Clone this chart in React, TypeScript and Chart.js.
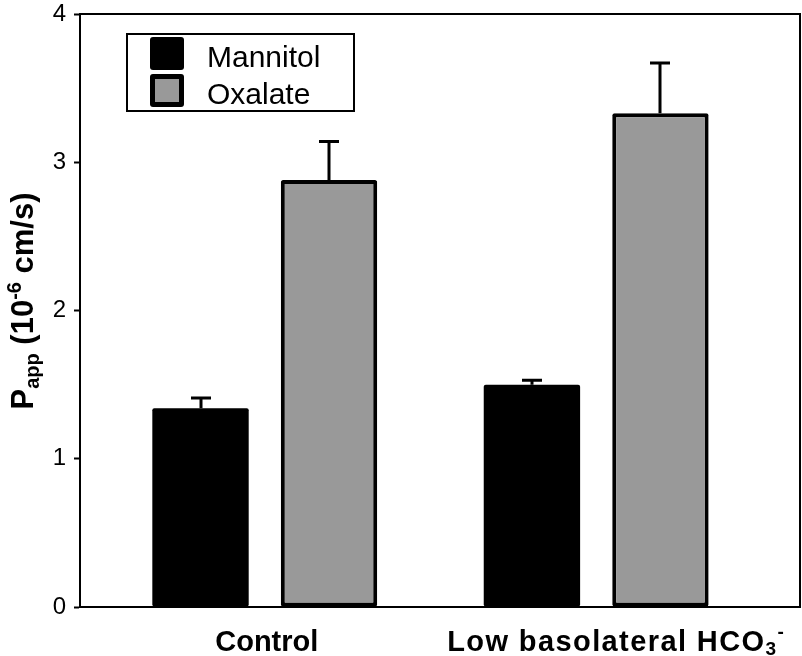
import React, { useEffect, useRef } from "react";
import { Chart, registerables } from "chart.js";

Chart.register(...registerables);

const categories = ["Control", "Low basolateral HCO3-"];
const seriesNames = ["Mannitol", "Oxalate"];
const mannitol = [1.34, 1.5];
const mannitolErr = [0.07, 0.03];
const oxalate = [2.88, 3.33];
const oxalateErr = [0.26, 0.34];
const yTicks = [0, 1, 2, 3, 4];

const FONT = "'Liberation Sans', Arial, Helvetica, sans-serif";

const errors = [mannitolErr, oxalateErr];

const framePlugin = {
  id: "frame",
  beforeDatasetsDraw(chart: any) {
    const { ctx, chartArea: a } = chart;
    ctx.save();
    ctx.strokeStyle = "#000";
    ctx.lineWidth = 2;
    ctx.strokeRect(a.left, a.top, a.right - a.left, a.bottom - a.top);
    ctx.restore();
  },
};

const errorBarPlugin = {
  id: "errorBars",
  afterDatasetsDraw(chart: any) {
    const { ctx } = chart;
    const yScale = chart.scales.y;
    ctx.save();
    ctx.strokeStyle = "#000";
    ctx.lineWidth = 3;
    chart.data.datasets.forEach((ds: any, di: number) => {
      const meta = chart.getDatasetMeta(di);
      meta.data.forEach((bar: any, i: number) => {
        const v = ds.data[i].y;
        const e = errors[di][i];
        const yTop = yScale.getPixelForValue(v + e);
        const x = Math.round(bar.x);
        ctx.beginPath();
        ctx.moveTo(x, bar.y);
        ctx.lineTo(x, yTop);
        ctx.moveTo(x - 10, yTop);
        ctx.lineTo(x + 10, yTop);
        ctx.stroke();
      });
    });
    ctx.restore();
  },
};

const legendPlugin = {
  id: "customLegend",
  afterDraw(chart: any) {
    const { ctx } = chart;
    const bx = 127, by = 34, bw = 227, bh = 77;
    ctx.save();
    ctx.fillStyle = "#fff";
    ctx.fillRect(bx, by, bw, bh);
    ctx.strokeStyle = "#000";
    ctx.lineWidth = 2;
    ctx.strokeRect(bx, by, bw, bh);
    chart.data.datasets.forEach((ds: any, i: number) => {
      const sy = 37 + i * 37;
      ctx.fillStyle = "#000";
      ctx.beginPath();
      (ctx as any).roundRect(150, sy, 34, 33, 3);
      ctx.fill();
      if (ds.backgroundColor !== "#000") {
        ctx.fillStyle = ds.backgroundColor;
        ctx.fillRect(155, sy + 5, 24, 23);
      }
      ctx.fillStyle = "#000";
      ctx.font = `30px ${FONT}`;
      ctx.textBaseline = "alphabetic";
      ctx.textAlign = "left";
      ctx.fillText(ds.label, 207, sy + 30);
    });
    ctx.restore();
  },
};

function drawRich(ctx: any, parts: any[], x: number, y: number, spacing: number) {
  ctx.letterSpacing = `${spacing}px`;
  let total = 0;
  parts.forEach((p) => {
    ctx.font = p.font;
    total += ctx.measureText(p.text).width;
  });
  let cx = x - total / 2;
  ctx.textAlign = "left";
  ctx.textBaseline = "alphabetic";
  parts.forEach((p) => {
    ctx.font = p.font;
    ctx.fillText(p.text, cx, y + (p.dy || 0));
    cx += ctx.measureText(p.text).width;
  });
  ctx.letterSpacing = "0px";
}

const labelsPlugin = {
  id: "richLabels",
  afterDraw(chart: any) {
    const { ctx } = chart;
    const xs = chart.scales.x;
    const big = `bold 29px ${FONT}`;
    const small = `bold 19px ${FONT}`;
    ctx.save();
    ctx.fillStyle = "#000";
    const labelParts = [
      [{ text: categories[0], font: big }],
      [
        { text: "Low basolateral HCO", font: big },
        { text: "3", font: small, dy: 4 },
        { text: "-", font: small, dy: -13 },
      ],
    ];
    const shifts = [2, 20];
    const spacings = [0, 1.4];
    categories.forEach((_, i) => {
      const px = xs.getPixelForValue(i + 1);
      drawRich(ctx, labelParts[i], px + shifts[i], 651, spacings[i]);
    });
    const tbig = `bold 31px ${FONT}`;
    const tsmall = `bold 20px ${FONT}`;
    const tparts = [
      { text: "P", font: tbig },
      { text: "app", font: tsmall, dy: 6 },
      { text: " (10", font: tbig },
      { text: "-6", font: tsmall, dy: -12 },
      { text: " cm/s)", font: tbig },
    ];
    ctx.translate(33, 301);
    ctx.rotate(-Math.PI / 2);
    drawRich(ctx, tparts, 0, 0, 0);
    ctx.restore();
  },
};

export default function App() {
  const ref = useRef<HTMLCanvasElement>(null);
  useEffect(() => {
    document.body.style.margin = "0";
    const chart = new Chart(ref.current as HTMLCanvasElement, {
      type: "bar",
      data: {
        datasets: [
          {
            label: seriesNames[0],
            data: mannitol.map((v, i) => ({ x: i + 1, y: v })),
            backgroundColor: "#000",
            borderColor: "#000",
            borderWidth: 0,
            borderRadius: 2,
            borderSkipped: false,
            categoryPercentage: 0.7755,
            barPercentage: 0.75,
          },
          {
            label: seriesNames[1],
            data: oxalate.map((v, i) => ({ x: i + 1, y: v })),
            backgroundColor: "#999999",
            borderColor: "#000",
            borderWidth: 4,
            borderRadius: 2,
            borderSkipped: false,
            categoryPercentage: 0.7755,
            barPercentage: 0.75,
          },
        ] as any,
      },
      options: {
        animation: false,
        responsive: false,
        layout: { padding: { top: 14, right: 2, left: 0, bottom: 0 } },
        plugins: { legend: { display: false }, tooltip: { enabled: false } },
        scales: {
          x: {
            type: "linear",
            offset: false,
            min: 0.4425,
            max: 2.615,
            afterBuildTicks: (s: any) => {
              s.ticks = categories.map((_, i) => ({ value: i + 1 }));
            },
            afterFit: (s: any) => {
              s.height = 49;
              s.paddingLeft = 0;
              s.paddingRight = 0;
            },
            ticks: { display: false },
            grid: { display: false, offset: false },
            border: { display: false },
          },
          y: {
            min: 0,
            max: 4,
            afterBuildTicks: (s: any) => {
              s.ticks = yTicks.map((v) => ({ value: v }));
            },
            afterFit: (s: any) => {
              s.width = 80;
              s.paddingTop = 0;
              s.paddingBottom = 0;
            },
            ticks: {
              color: "#000",
              padding: 8,
              font: { family: FONT, size: 24 },
            },
            grid: {
              drawOnChartArea: false,
              drawTicks: true,
              tickLength: 6,
              tickWidth: 2,
              tickColor: "#000",
            },
            border: { display: true, color: "#000", width: 2 },
          },
        } as any,
      },
      plugins: [framePlugin, errorBarPlugin, legendPlugin, labelsPlugin],
    });
    return () => chart.destroy();
  }, []);
  return (
    <canvas
      ref={ref}
      width={802}
      height={656}
      style={{ display: "block", width: 802, height: 656 }}
    />
  );
}
